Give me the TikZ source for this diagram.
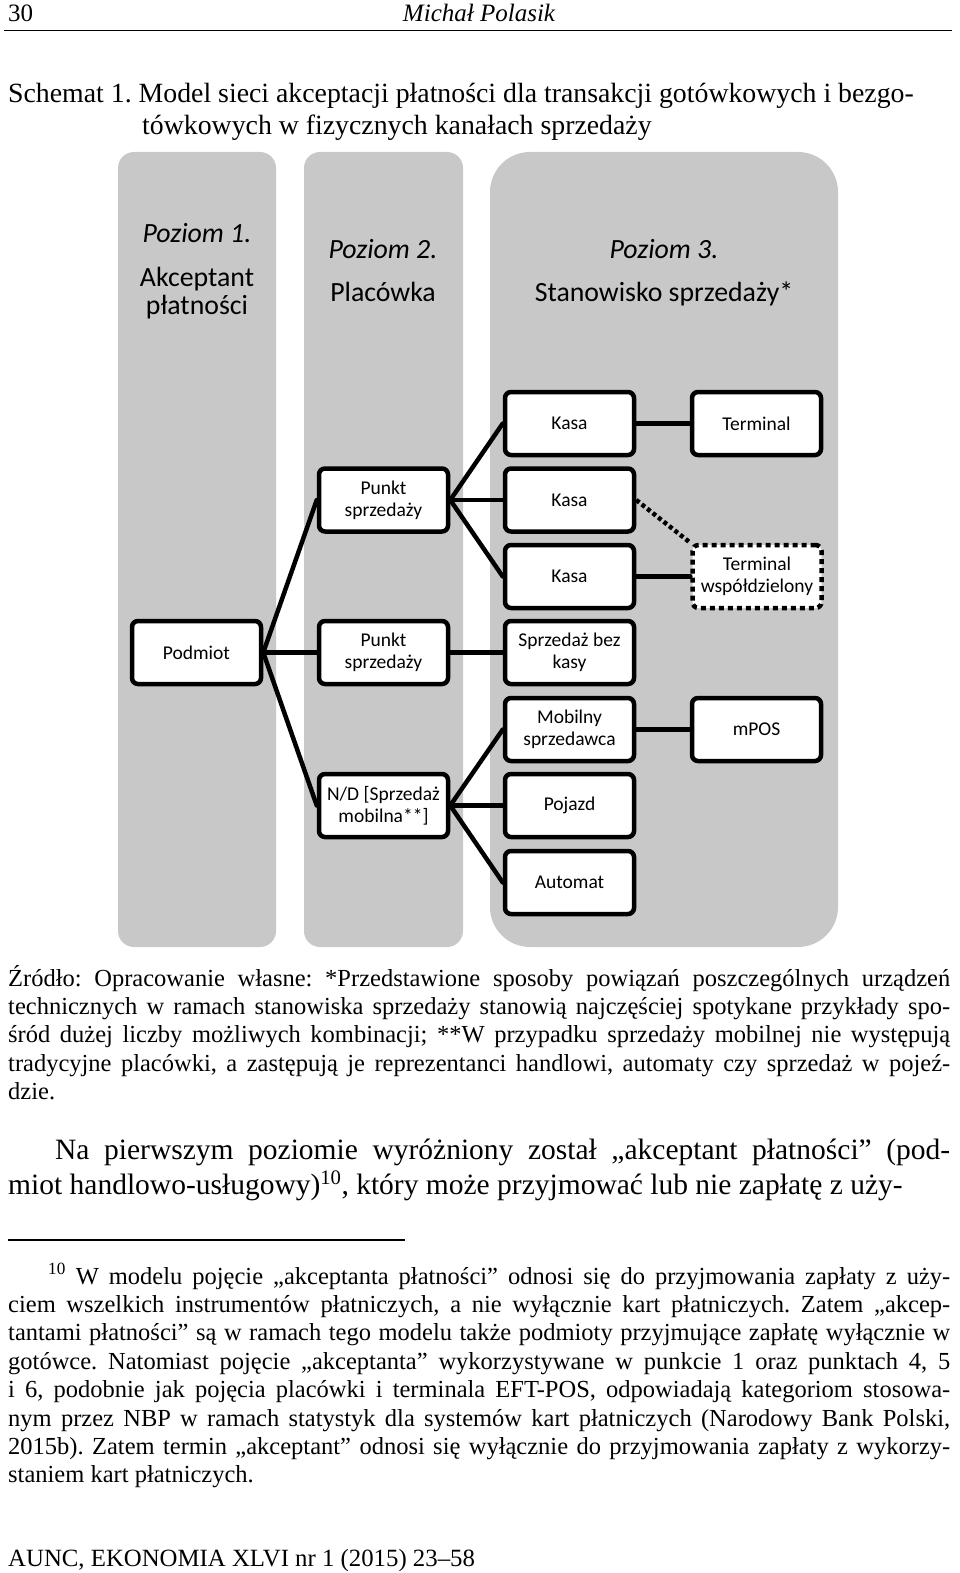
\documentclass[tikz,border=0pt]{standalone}
\usepackage{fontspec}
\setmainfont{Liberation Serif}
\newfontfamily\calibri{Carlito}
\definecolor{panel}{RGB}{200,200,200}
\begin{document}
\hyphenpenalty=10000 \exhyphenpenalty=10000 \frenchspacing
\begin{tikzpicture}[x=1pt,y=-1pt,
  box/.style={draw,line width=4.5pt,rounded corners=6pt,fill=white,minimum width=129pt,minimum height=63pt,inner sep=0pt,align=center,font=\calibri\fontsize{19.5}{22}\selectfont},
  dashbox/.style={box,dash pattern=on 5pt off 4pt},
  conn/.style={line width=4.5pt,line cap=round},
  dotconn/.style={line width=4.5pt,dash pattern=on 4pt off 3pt},
  head/.style={font=\calibri\fontsize{27.8}{30}\selectfont,anchor=base,inner sep=0pt},
  headit/.style={head,font=\calibri\itshape\fontsize{27.8}{30}\selectfont},
  para/.style={anchor=base west,inner sep=0pt,text width=942pt,align=justify},
  small/.style={font=\fontsize{24.5}{28.4}\selectfont},
  line/.style={anchor=base west,inner sep=0pt}
]
\useasboundingbox (0,0) rectangle (960,1573);
\fill[white] (0,0) rectangle (960,1573);

% header
\node[line,font=\fontsize{25}{30}\selectfont] (pnum) at (8,22) {30};
\node[anchor=base,inner sep=0pt,font=\itshape\fontsize{25}{30}\selectfont] (auth) at (479,22) {Michał Polasik};
\draw[line width=1.5pt] (4,30.5) -- (952,30.5);

% caption
\node[line,font=\fontsize{27.8}{32}\selectfont] (cap1) at (8,103) {Schemat 1. Model sieci akceptacji płatności dla transakcji gotówkowych i bezgo-};
\node[line,font=\fontsize{27.8}{32}\selectfont] (cap2) at (142,135) {tówkowych w fizycznych kanałach sprzedaży};

% panels
\fill[panel,rounded corners=16pt] (118,152) rectangle (276,947);
\fill[panel,rounded corners=16pt] (304,152) rectangle (463,947);
\fill[panel,rounded corners=40pt] (490,152) rectangle (838,947);

% headings
\node[headit] (h1a) at (197,242) {Poziom 1.};
\node[head] (h1b) at (197,286) {Akceptant};
\node[head] (h1c) at (197,314) {płatności};
\node[headit] (h2a) at (383,258) {Poziom 2.};
\node[head] (h2b) at (383,301) {Placówka};
\node[headit] (h3a) at (664,258) {Poziom 3.};
\node[head] (h3b) at (664,301) {Stanowisko sprzedaży*};

% boxes
\node[box] (k1) at (569.5,423.5) {Kasa};
\node[box] (t1) at (756.5,423.5) {Terminal};
\node[box] (p1) at (383.5,500) {Punkt\\sprzedaży};
\node[box] (k2) at (569.5,500) {Kasa};
\node[box] (k3) at (569.5,576.5) {Kasa};
\node[dashbox] (tw) at (757,576.5) {Terminal\\współdzielony};
\node[box] (pod) at (196.5,652.5) {Podmiot};
\node[box] (p2) at (383.5,652.5) {Punkt\\sprzedaży};
\node[box] (sbk) at (569.5,652.5) {Sprzedaż bez\\kasy};
\node[box] (mob) at (569.5,729.5) {Mobilny\\sprzedawca};
\node[box] (mpos) at (756.5,729.5) {mPOS};
\node[box] (nd) at (383.5,805.5) {N/D [Sprzedaż\\mobilna**]};
\node[box] (poj) at (569.5,805.5) {Pojazd};
\node[box] (aut) at (569.5,882.5) {Automat};

% connectors
\draw[conn] (pod.east) -- (p1.west);
\draw[conn] (pod.east) -- (p2.west);
\draw[conn] (pod.east) -- (nd.west);
\draw[conn] (p1.east) -- (k1.west);
\draw[conn] (p1.east) -- (k2.west);
\draw[conn] (p1.east) -- (k3.west);
\draw[conn] (k1.east) -- (t1.west);
\draw[conn] (k3.east) -- (tw.west);
\draw[dotconn] (k2.east) -- (tw.north west);
\draw[conn] (p2.east) -- (sbk.west);
\draw[conn] (nd.east) -- (mob.west);
\draw[conn] (nd.east) -- (poj.west);
\draw[conn] (nd.east) -- (aut.west);
\draw[conn] (mob.east) -- (mpos.west);

% source note
\node[para,small] (src) at (8,986) {Źródło: Opracowanie własne: *Przedstawione sposoby powiązań poszczególnych urządzeń\linebreak
technicznych w ramach stanowiska sprzedaży stanowią najczęściej spotykane przykłady spo-\linebreak
śród dużej liczby możliwych kombinacji; **W przypadku sprzedaży mobilnej nie występują\linebreak
tradycyjne placówki, a zastępują je reprezentanci handlowi, automaty czy sprzedaż w pojeź-\linebreak
dzie.};

% body text
\node[para,font=\fontsize{29.5}{35}\selectfont] (body) at (8,1159) {\hspace*{47pt}Na pierwszym poziomie wyróżniony został „akceptant płatności” (pod-\linebreak
miot handlowo-usługowy)\textsuperscript{10}, który może przyjmować lub nie zapłatę z uży-};

% footnote
\draw[line width=1.3pt] (8,1240) -- (405,1240);
\node[para,small] (fn) at (8,1284) {\hspace*{40pt}\textsuperscript{10} W modelu pojęcie „akceptanta płatności” odnosi się do przyjmowania zapłaty z uży-\linebreak
ciem wszelkich instrumentów płatniczych, a nie wyłącznie kart płatniczych. Zatem „akcep-\linebreak
tantami płatności” są w ramach tego modelu także podmioty przyjmujące zapłatę wyłącznie w\linebreak
gotówce. Natomiast pojęcie „akceptanta” wykorzystywane w punkcie 1 oraz punktach 4, 5\linebreak
i 6, podobnie jak pojęcia placówki i terminala EFT-POS, odpowiadają kategoriom stosowa-\linebreak
nym przez NBP w ramach statystyk dla systemów kart płatniczych (Narodowy Bank Polski,\linebreak
2015b). Zatem termin „akceptant” odnosi się wyłącznie do przyjmowania zapłaty z wykorzy-\linebreak
staniem kart płatniczych.};

% footer
\node[line,font=\fontsize{24.8}{30}\selectfont] (foot) at (8,1566) {AUNC, EKONOMIA XLVI nr 1 (2015) 23–58};
\end{tikzpicture}
\end{document}
